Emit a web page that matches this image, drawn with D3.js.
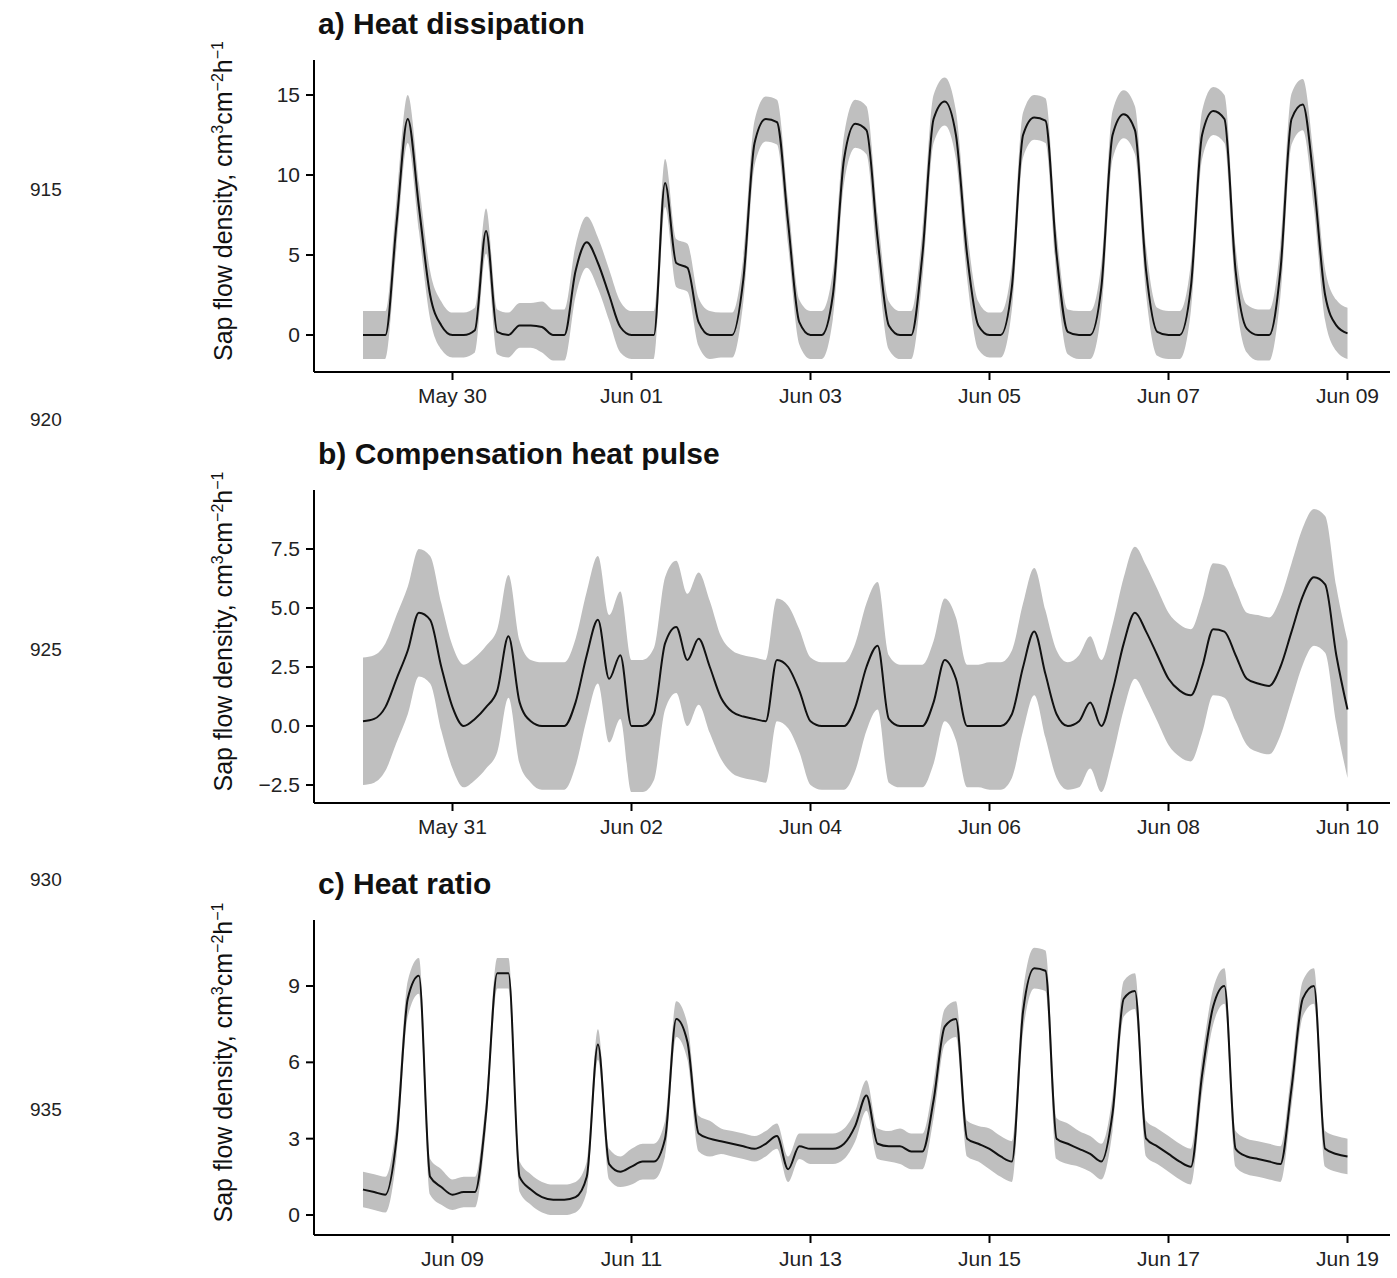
<!DOCTYPE html>
<html><head><meta charset="utf-8">
<script src="https://cdn.jsdelivr.net/npm/d3@7"></script>
<style>body{margin:0;background:#fff}svg text{font-family:"Liberation Sans",Arial,sans-serif}</style>
</head><body><svg id="c" width="1397" height="1278"></svg>
<script>
// values every 3 hours (00,03,...,21h), one row of 8 per day; last value = end point
var heatDissMean = [
  0,0,0,7,13.5,8,2.5,0.6,
  0,0,0.3,6.5,0.2,0,0.6,0.6,
  0.5,0,0,4,5.8,4.5,2.5,0.5,
  0,0,0,9.5,4.5,4.2,0.8,0,
  0,0,3.5,12,13.5,13.3,7,0.8,
  0,0,2.5,11,13.2,12.8,6,0.6,
  0,0,5,13.5,14.6,12.5,5,0.6,
  0,0,3,12.5,13.6,13.4,5,0.2,
  0,0,3,12.5,13.8,12.8,4,0.2,
  0,0,3,12.5,14,13.5,4,0.4,
  0,0,4,13.5,14.4,9.5,2.5,0.6,
  0.1];
var heatDissSd = [1.5,1.4,1.6,1.5,1.4,1.5,1.5,1.4,1.5,1.5,1.6];

var chpMean = [
  0.2,0.3,0.8,2,3.2,4.8,4.5,2.5,
  0.8,0,0.3,0.8,1.5,3.8,1,0.2,
  0,0,0,1,3,4.5,2,3,
  0,0,0.5,3.5,4.2,2.8,3.7,2.5,
  1.2,0.6,0.4,0.3,0.2,2.8,2.5,1.5,
  0.2,0,0,0,0.8,2.5,3.4,0.3,
  0,0,0,1,2.8,2,0,0,
  0,0,0.5,2.5,4,2.2,0.5,0,
  0.2,1,0,1.5,3.5,4.8,4,3,
  2,1.5,1.3,2.5,4.1,4,3,2,
  1.8,1.7,2.5,4,5.5,6.3,6,3,
  0.7];
var chpSd = [2.7,2.6,2.7,2.8,2.6,2.7,2.6,2.7,2.8,2.8,2.9];

var hrMean = [
  1,0.9,0.8,3,8.5,9.4,1.5,1.1,
  0.8,0.9,0.9,4,9.5,9.5,1.5,1,
  0.7,0.6,0.6,0.7,1.5,6.7,2,1.7,
  1.9,2.1,2.1,3,7.7,6.8,3.2,3,
  2.9,2.8,2.7,2.6,2.8,3.1,1.8,2.7,
  2.6,2.6,2.6,2.8,3.5,4.7,2.8,2.7,
  2.7,2.5,2.5,4.5,7.4,7.7,3,2.8,
  2.6,2.3,2.1,8,9.7,9.6,3,2.8,
  2.6,2.4,2.1,4,8.5,8.8,3,2.7,
  2.4,2.1,1.9,5.5,8.2,9,2.6,2.3,
  2.2,2.1,2.0,5,8.5,9,2.6,2.4,
  2.3];
var hrSd = [0.7,0.6,0.6,0.7,0.5,0.6,0.7,0.8,0.7,0.7,0.7];

var lineNumbers = ["915","920","925","930","935"];
var yLabel = "Sap flow density, cm";

var panels = [
  {title:"a) Heat dissipation", start:new Date(2019,4,29), mean:heatDissMean, sd:heatDissSd,
   yDom:[0,15], yRange:[335,95], yTicks:[0,5,10,15], fmt:d3.format("d"), top:60, bottom:372},
  {title:"b) Compensation heat pulse", start:new Date(2019,4,30), mean:chpMean, sd:chpSd,
   yDom:[-2.5,7.5], yRange:[785,549], yTicks:[-2.5,0,2.5,5,7.5], fmt:function(v){return d3.format(".1f")(v).replace("-","\u2212");}, top:490, bottom:803},
  {title:"c) Heat ratio", start:new Date(2019,5,8), mean:hrMean, sd:hrSd,
   yDom:[0,9], yRange:[1215,986], yTicks:[0,3,6,9], fmt:d3.format("d"), top:920, bottom:1235}
];

var svg = d3.select("#c");
var left = 314, right = 1390;

svg.selectAll("text.ln").data(lineNumbers).enter().append("text")
  .attr("x",30).attr("y",function(d,i){return 196+i*230;})
  .attr("font-size",19).attr("fill","#222").text(function(d){return d;});

panels.forEach(function(p){
  var days = p.sd.length;
  var end = d3.timeDay.offset(p.start, days);
  var x = d3.scaleTime().domain([p.start, end]).range([363, 363+89.5*days]);
  var y = d3.scaleLinear().domain(p.yDom).range(p.yRange);
  var pts = p.mean.map(function(m,i){
    var s = p.sd[Math.min(Math.floor(i/8), days-1)];
    return {t:d3.timeHour.offset(p.start, i*3), m:m, lo:m-s, hi:m+s};
  });
  var g = svg.append("g");
  g.append("path").datum(pts).attr("fill","#bfbfbf")
    .attr("d", d3.area().curve(d3.curveMonotoneX).x(function(d){return x(d.t);})
      .y0(function(d){return y(d.lo);}).y1(function(d){return y(d.hi);}));
  g.append("path").datum(pts).attr("fill","none").attr("stroke","#111").attr("stroke-width",2)
    .attr("d", d3.line().curve(d3.curveMonotoneX).x(function(d){return x(d.t);}).y(function(d){return y(d.m);}));

  // axes
  g.append("line").attr("x1",left).attr("x2",left).attr("y1",p.top).attr("y2",p.bottom).attr("stroke","#000").attr("stroke-width",2);
  g.append("line").attr("x1",left).attr("x2",right).attr("y1",p.bottom).attr("y2",p.bottom).attr("stroke","#000").attr("stroke-width",2);
  var xt = d3.timeDay.range(d3.timeDay.offset(p.start,1), d3.timeDay.offset(end,1), 2);
  xt.forEach(function(t){
    g.append("line").attr("x1",x(t)).attr("x2",x(t)).attr("y1",p.bottom).attr("y2",p.bottom+8).attr("stroke","#000").attr("stroke-width",2);
    g.append("text").attr("x",x(t)).attr("y",p.bottom+31).attr("text-anchor","middle").attr("font-size",21).attr("fill","#222")
      .text(d3.timeFormat("%b %d")(t));
  });
  p.yTicks.forEach(function(v){
    g.append("line").attr("x1",left-8).attr("x2",left).attr("y1",y(v)).attr("y2",y(v)).attr("stroke","#000").attr("stroke-width",2);
    g.append("text").attr("x",left-14).attr("y",y(v)+7).attr("text-anchor","end").attr("font-size",21).attr("fill","#222").text(p.fmt(v));
  });
  g.append("text").attr("x",318).attr("y",p.top-26).attr("font-size",30).attr("font-weight","bold").attr("fill","#111").text(p.title);
  var cy = (p.top+p.bottom)/2 - 15;
  var lab = g.append("text").attr("transform","translate(232,"+cy+") rotate(-90)")
    .attr("text-anchor","middle").attr("font-size",25).attr("fill","#111");
  lab.append("tspan").text(yLabel);
  lab.append("tspan").attr("dy",-9).attr("font-size",16).text("3");
  lab.append("tspan").attr("dy",9).text("cm");
  lab.append("tspan").attr("dy",-9).attr("font-size",16).text("\u22122");
  lab.append("tspan").attr("dy",9).text("h");
  lab.append("tspan").attr("dy",-9).attr("font-size",16).text("\u22121");
});
</script></body></html>
